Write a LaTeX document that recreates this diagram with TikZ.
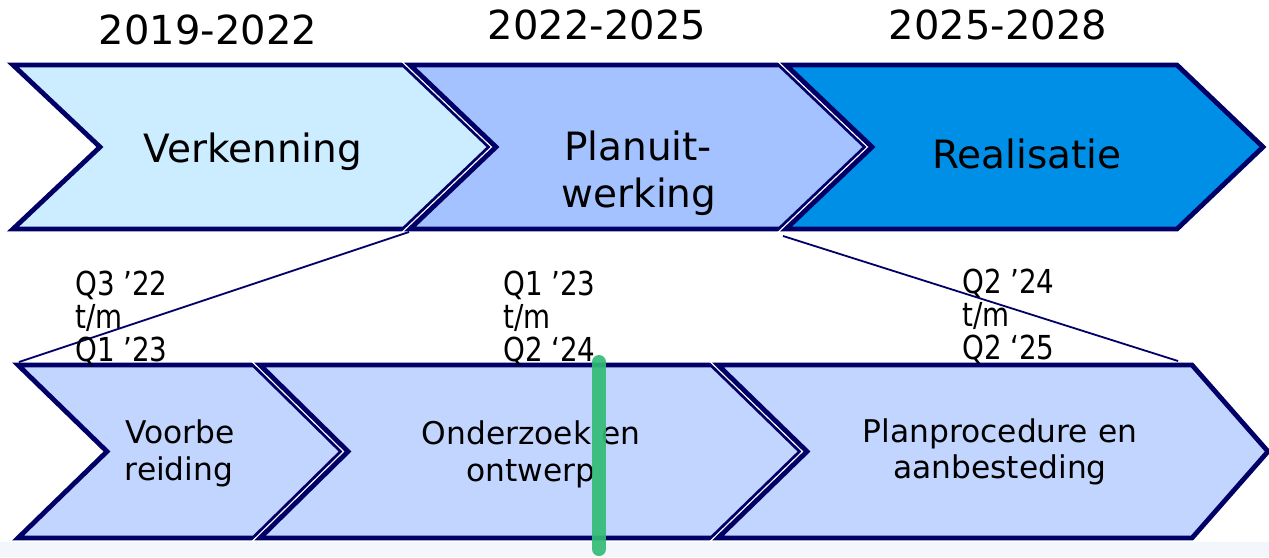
\documentclass[tikz,border=0pt]{standalone}
\usepackage{fontspec}
\setmainfont{DejaVu Sans}
\newfontfamily\qfont[FakeStretch=0.84]{DejaVu Sans}
\definecolor{navy}{RGB}{0,0,102}
\definecolor{fillA}{RGB}{204,236,255}
\definecolor{fillB}{RGB}{164,194,255}
\definecolor{fillC}{RGB}{0,143,230}
\definecolor{fillD}{RGB}{194,213,255}
\definecolor{mark}{RGB}{51,187,119}
\definecolor{strip}{RGB}{243,247,251}
\tikzset{
  chev/.style={draw=navy, line width=4.8pt, line join=miter, preaction={draw=white, line width=7.4pt}},
  toplab/.style={font=\fontsize{39}{46}\selectfont, anchor=base, inner sep=0pt},
  yearlab/.style={font=\fontsize{40}{48}\selectfont, anchor=base, inner sep=0pt},
  botlab/.style={font=\fontsize{31.3}{36}\selectfont, anchor=base, inner sep=0pt},
  qlab/.style={font=\qfont\fontsize{33}{33}\selectfont, anchor=base west, inner sep=0pt},
  link/.style={draw=navy, line width=1.8pt},
  marker/.style={draw=mark, line width=14pt, line cap=round, opacity=0.92}
}
\begin{document}
\begin{tikzpicture}[x=1pt,y=-1pt]
\useasboundingbox (0,0) rectangle (1269,557);
\clip (0,0) rectangle (1269,557);
\fill[strip] (0,542) rectangle (1269,557);

% top row chevrons
\path[chev, fill=fillA] (13,65) -- (404,65) -- (490,147) -- (404,229) -- (13,229) -- (100,147) -- cycle;
\path[chev, fill=fillB] (410,65) -- (780,65) -- (866,147) -- (780,229) -- (410,229) -- (496,147) -- cycle;
\path[chev, fill=fillC] (786,65) -- (1177,65) -- (1263,147) -- (1177,229) -- (786,229) -- (872,147) -- cycle;

% bottom row chevrons
\path[chev, fill=fillD] (18,365) -- (254,365) -- (342,451.5) -- (254,538) -- (18,538) -- (107,451.5) -- cycle;
\path[chev, fill=fillD] (260,365) -- (712,365) -- (801,451.5) -- (712,538) -- (260,538) -- (348,451.5) -- cycle;
\path[chev, fill=fillD] (718,365) -- (1192,365) -- (1268,451.5) -- (1192,538) -- (718,538) -- (807,451.5) -- cycle;

% corner coordinates for the zoom lines
\coordinate (verk-br) at (409,232);
\coordinate (voor-tl) at (19,362);
\coordinate (plan-br) at (783,236);
\coordinate (proc-tr) at (1178,361);
\draw[link] (verk-br) -- (voor-tl);
\draw[link] (plan-br) -- (proc-tr);

% year labels
\node[yearlab] (y1) at (208,44) {2019-2022};
\node[yearlab] (y2) at (597,39) {2022-2025};
\node[yearlab] (y3) at (998,39) {2025-2028};

% top labels
\node[toplab] (verk) at (253,162) {Verkenning};
\node[toplab] (plan1) at (638,160) {Planuit-};
\node[toplab] (plan2) at (639,207) {werking};
\node[toplab] (real) at (1027,168) {Realisatie};

% quarter labels
\node[qlab] (q1a) at (75,295) {Q3 ’22};
\node[qlab] (q1b) at (75,328) {t/m};
\node[qlab] (q1c) at (75,361) {Q1 ’23};
\node[qlab] (q2a) at (503,295) {Q1 ’23};
\node[qlab] (q2b) at (503,328) {t/m};
\node[qlab] (q2c) at (503,361) {Q2 ‘24};
\node[qlab] (q3a) at (962,293) {Q2 ’24};
\node[qlab] (q3b) at (962,326) {t/m};
\node[qlab] (q3c) at (962,359) {Q2 ‘25};

% bottom labels
\node[botlab] (voor1) at (180,443) {Voorbe};
\node[botlab] (voor2) at (179,480) {reiding};
\node[botlab] (ond1) at (531,444) {Onderzoek en};
\node[botlab] (ond2) at (531,481) {ontwerp};
\node[botlab] (proc1) at (1000,442) {Planprocedure en};
\node[botlab] (proc2) at (1000,478) {aanbesteding};

% green marker
\coordinate (mk-top) at (599,362);
\coordinate (mk-bot) at (599,549);
\draw[marker] (mk-top) -- (mk-bot);
\end{tikzpicture}
\end{document}
